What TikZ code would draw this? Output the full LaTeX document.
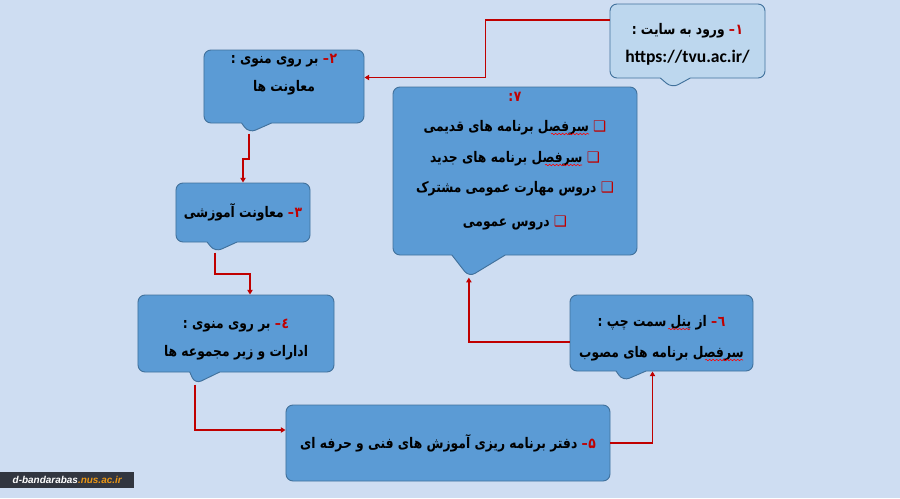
\documentclass[tikz,border=0pt]{standalone}
\usepackage{fontspec}
\usetikzlibrary{shapes.callouts,arrows.meta,calc,decorations.pathmorphing}
\TeXXeTstate=1
\newfontfamily\arabicfont[Script=Arabic, FakeStretch=0.84]{DejaVu Sans}
\newfontfamily\symfont{DejaVu Sans}
\newfontfamily\urlfont{Carlito}
\newfontfamily\wmfont{Liberation Sans}

\definecolor{bgblue}{RGB}{206,221,242}
\definecolor{boxblue}{RGB}{91,155,213}
\definecolor{boxline}{RGB}{65,113,156}
\definecolor{paleblue}{RGB}{189,215,238}
\definecolor{linkred}{RGB}{192,0,0}
\definecolor{wmgray}{RGB}{50,54,64}
\definecolor{wmorange}{RGB}{235,150,20}

% number of a step, and a bullet of the list
\newcommand\stepno[1]{\textcolor{linkred}{–\kern0.5pt#1}}
\newcommand\bul{\textcolor{linkred}{\symfont\mdseries ❑}}

\tikzset{
  stepbox/.style={rectangle callout, rounded corners=6pt, draw=boxline, fill=boxblue,
    line width=0.8pt, inner sep=0pt, align=center, callout pointer width=0.9cm,
    font=\arabicfont\bfseries\fontsize{12.5}{24}\selectfont},
  plainbox/.style={rectangle, rounded corners=6pt, draw=boxline, fill=boxblue,
    line width=0.8pt, inner sep=0pt, align=center,
    font=\arabicfont\bfseries\fontsize{12.5}{24}\selectfont},
  link/.style={draw=linkred, line width=1.6pt, -{Triangle[length=4pt,width=4.5pt]}},
  spellwave/.style={draw=red, line width=0.5pt,
    decorate, decoration={snake, amplitude=0.6pt, segment length=3pt}}
}

\begin{document}
\begin{tikzpicture}[x=0.03cm, y=-0.03cm]
    % page
    \fill[bgblue] (0,0) rectangle (900,498);
    \useasboundingbox (0,0) rectangle (900,498);

    % 1: site
    \node[stepbox, fill=paleblue, minimum width=4.65cm, minimum height=2.22cm, text height=1.39cm,
      callout absolute pointer={(672,88)}] (site) at (687.5,41)
      {\beginR ورود به سایت :\endR\ \stepno{۱}\\ {\urlfont\fontsize{15}{24}\selectfont https://tvu.ac.ir/}};

    % 2: menu
    \node[stepbox, minimum width=4.8cm, minimum height=2.19cm, text depth=0.8cm,
      callout absolute pointer={(249,133)}] (menu) at (284,86.5)
      {\beginR بر روی منوی :\endR\ \stepno{۲}\\ \beginR معاونت ها\endR};

    % 3: deputy
    \node[stepbox, minimum width=4.02cm, minimum height=1.77cm,
      callout absolute pointer={(215,252)}] (deputy) at (243,212.5)
      {\beginR معاونت آموزشی\endR\ \stepno{۳}};

    % 4: offices
    \node[stepbox, minimum width=5.88cm, minimum height=2.31cm, text height=1.48cm,
      callout absolute pointer={(195,384)}] (offices) at (236,333.5)
      {\beginR بر روی منوی :\endR\ \stepno{٤}\\ \beginR ادارات و زیر مجموعه ها\endR};

    % 5: bureau
    \node[plainbox, minimum width=9.72cm, minimum height=2.28cm] (bureau) at (448,443)
      {\beginR دفتر برنامه ریزی آموزش های فنی و حرفه ای\endR\ \stepno{۵}};

    % 6: panel
    \node[stepbox, minimum width=5.49cm, minimum height=2.28cm, text height=1.6cm,
      callout absolute pointer={(623,381)}] (panel) at (661.5,333)
      {\beginR از پنل سمت چپ :\endR\ \stepno{٦}\\[3pt] \beginR سرفصل برنامه های مصوب\endR};

    % 7: topics
    \node[stepbox, minimum width=7.32cm, minimum height=5.04cm, callout pointer width=1.6cm,
      font=\arabicfont\bfseries\fontsize{12.5}{26}\selectfont, text depth=0.7cm,
      callout absolute pointer={(469,277)}] (topics) at (515,171)
      {\textcolor{linkred}{:\kern0.5pt۷}\\
       \beginR سرفصل برنامه های قدیمی\endR\ \bul\\
       \beginR سرفصل برنامه های جدید\endR\ \bul\\
       \beginR دروس مهارت عمومی مشترک\endR\ \bul\\[3pt]
       \beginR دروس عمومی\endR\ \bul};

    % spelling marks
    \draw[spellwave] (551,134) -- (589,134);
    \draw[spellwave] (545,165) -- (582,165);
    \draw[spellwave] (668,329) -- (690,329);
    \draw[spellwave] (705,360) -- (743,360);

    % links
    \draw[link] ($(site.west)+(0,-21)$) -- ++(-124,0) |- ($(menu.east)+(0,-9)$);
    \draw[link] (menu.pointer) -- ++(0,25) -| (deputy.north);
    \draw[link] (deputy.pointer) -- ++(0,21) -| ($(offices.north)+(14,0)$);
    \draw[link] (offices.pointer) |- ($(bureau.west)+(0,-13)$);
    \draw[link] (bureau.east) -| ($(panel.south)+(-9,0)$);
    \draw[link] ($(panel.west)+(0,9)$) -| (topics.pointer);

    % site name
    \node[fill=wmgray, anchor=west, minimum width=4.02cm, minimum height=0.48cm, inner sep=0pt,
      font=\wmfont\bfseries\itshape\fontsize{8.5}{10}\selectfont] (web) at (0,480)
      {\textcolor{white}{d-bandarabas}\textcolor{wmorange}{.nus.ac.ir}};
\end{tikzpicture}
\end{document}
